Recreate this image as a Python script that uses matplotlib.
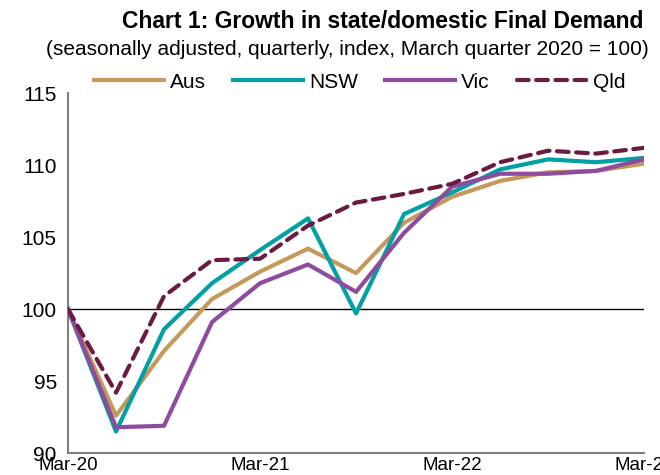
import matplotlib
matplotlib.use('Agg')
import matplotlib.pyplot as plt

# quarterly index, March quarter 2020 = 100
quarters = ['Mar-20', 'Jun-20', 'Sep-20', 'Dec-20', 'Mar-21', 'Jun-21', 'Sep-21',
            'Dec-21', 'Mar-22', 'Jun-22', 'Sep-22', 'Dec-22', 'Mar-23']
aus = [100.0, 92.6, 97.1, 100.7, 102.6, 104.2, 102.5, 106.0, 107.8, 108.9, 109.5, 109.6, 110.1]
nsw = [100.0, 91.5, 98.6, 101.8, 104.1, 106.3, 99.7, 106.6, 108.1, 109.7, 110.4, 110.2, 110.5]
vic = [100.0, 91.8, 91.9, 99.1, 101.8, 103.1, 101.2, 105.3, 108.5, 109.4, 109.4, 109.6, 110.4]
qld = [100.0, 94.2, 100.9, 103.4, 103.5, 105.8, 107.4, 108.0, 108.7, 110.2, 111.0, 110.8, 111.2]

tick_labels = ['Mar-20', 'Mar-21', 'Mar-22', 'Mar-23']
y_ticks = [90, 95, 100, 105, 110, 115]

plt.rcParams['font.family'] = ['Liberation Sans', 'DejaVu Sans']

fig = plt.figure(figsize=(6.6, 4.75), dpi=100)
ax = fig.add_axes([0.103, 0.046, 0.873, 0.758])

x = list(range(len(quarters)))
ax.axhline(100, color='black', lw=1, zorder=1)
ax.plot(x, aus, color='#C49A5C', lw=3, label='Aus', zorder=2)
ax.plot(x, nsw, color='#00A0A4', lw=3, label='NSW', zorder=3)
ax.plot(x, vic, color='#8E4C9E', lw=3, label='Vic', zorder=4)
ax.plot(x, qld, color='#6B1A42', lw=3, label='Qld', zorder=5,
        dashes=(2.8, 1.8), dash_capstyle='round')

ax.set_xlim(0, len(quarters) - 1)
ax.set_ylim(90, 115)
ax.set_yticks(y_ticks)
ax.set_yticklabels([str(v) for v in y_ticks], fontsize=15)
ax.set_xticks([quarters.index(t) for t in tick_labels])
ax.set_xticklabels(tick_labels, fontsize=13.5)
ax.tick_params(axis='both', length=0)
ax.tick_params(axis='x', pad=3)
ax.tick_params(axis='y', pad=8)

for s in ['top', 'right']:
    ax.spines[s].set_visible(False)
for s in ['left', 'bottom']:
    ax.spines[s].set_color('#808080')
    ax.spines[s].set_linewidth(1.5)

fig.text(0.58, 0.954, 'Chart 1: Growth in state/domestic Final Demand',
         ha='center', va='center', fontsize=16.5, fontweight='bold')
fig.text(0.527, 0.895, '(seasonally adjusted, quarterly, index, March quarter 2020 = 100)',
         ha='center', va='center', fontsize=15)

fig.legend(loc='center', bbox_to_anchor=(0.545, 0.827), ncol=4, frameon=False,
           fontsize=15, handlelength=3.35, handletextpad=0.3, columnspacing=1.3)

fig.savefig('out.png', dpi=100)
